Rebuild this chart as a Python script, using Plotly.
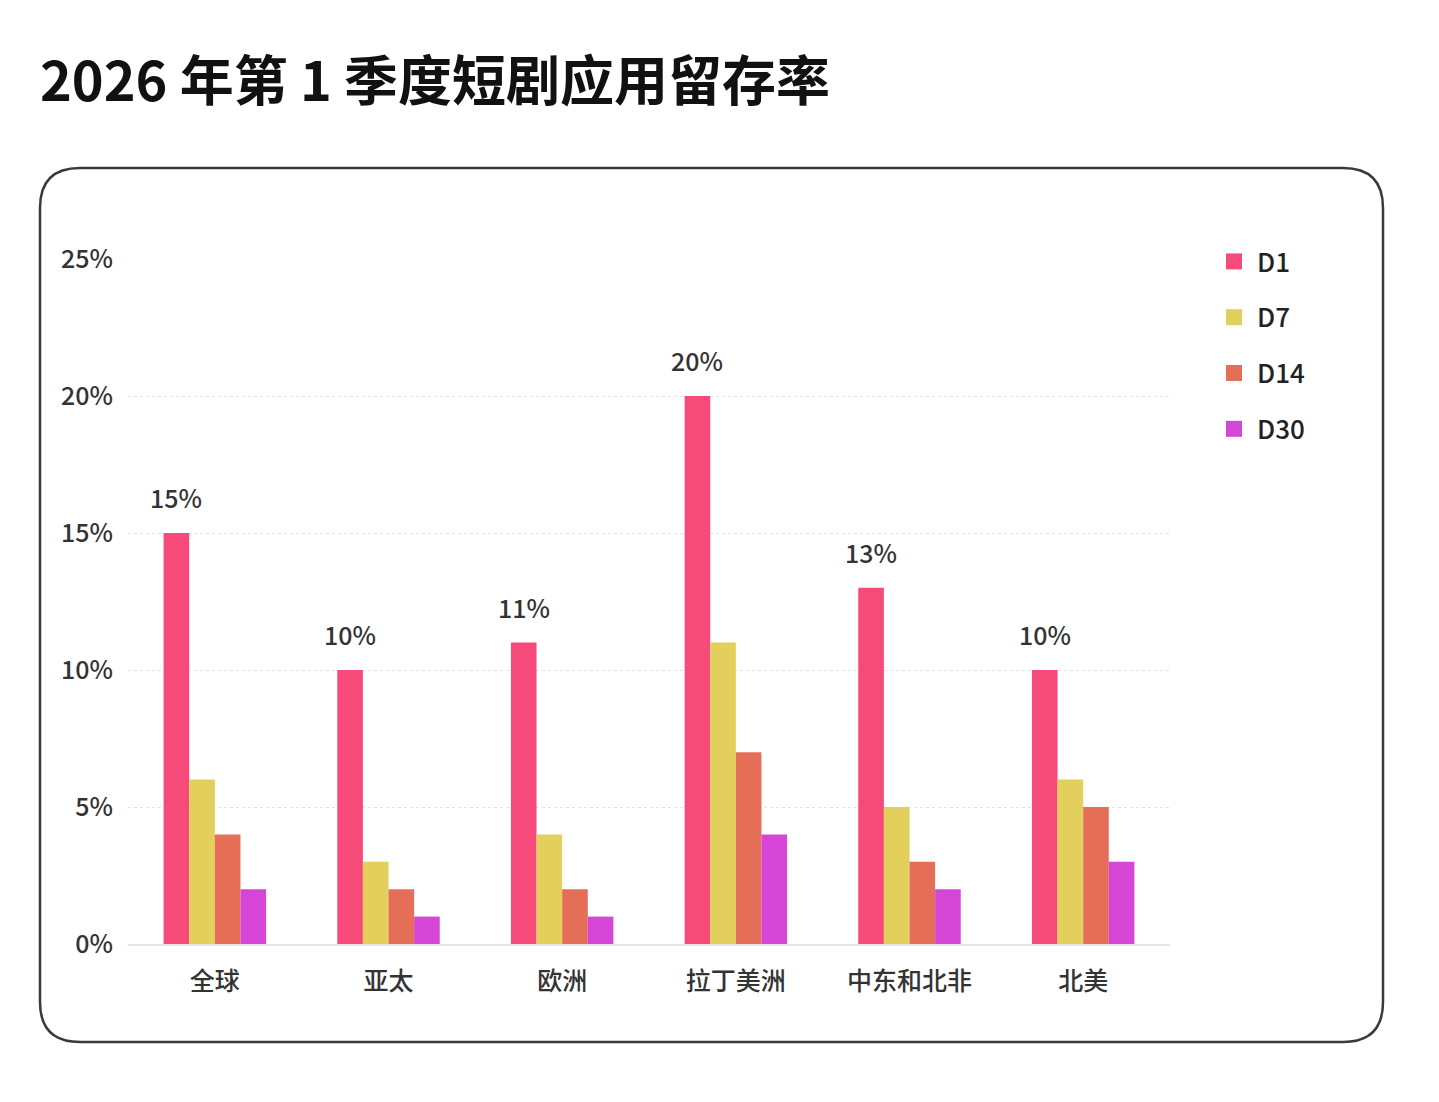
import plotly.graph_objects as go

categories = ["全球", "亚太", "欧洲", "拉丁美洲", "中东和北非", "北美"]
series_names = ["D1", "D7", "D14", "D30"]
d1 = [15, 10, 11, 20, 13, 10]
d7 = [6, 3, 4, 11, 5, 6]
d14 = [4, 2, 2, 7, 3, 5]
d30 = [2, 1, 1, 4, 2, 3]
colors = ["#F64A7B", "#E3CF5B", "#E56E58", "#D646D6"]
y_ticks = [0, 5, 10, 15, 20, 25]
y_ticklabels = ["0%", "5%", "10%", "15%", "20%", "25%"]
title_text = "2026 年第 1 季度短剧应用留存率"

W, H = 1439, 1102
OFF = 8  # page body offset
L, R, T, B = 128 - OFF, 1170 - OFF, 259 - OFF, 944 - OFF
PW, PH = R - L, B - T
BARGAP = 0.41

def px(x):
    return (x - OFF - L) / PW

def py(y):
    return (B - (y - OFF)) / PH

FONT = "Noto Sans CJK SC"

fig = go.Figure()
values = [d1, d7, d14, d30]
for i, (name, vals) in enumerate(zip(series_names, values)):
    fig.add_trace(go.Bar(
        x=categories, y=vals, name=name,
        marker=dict(color=colors[i], line=dict(width=0)),
        legendgroup=name, showlegend=False,
        hoverinfo="x+y+name",
    ))
# legend entries with square swatches
for i, name in enumerate(series_names):
    fig.add_trace(go.Scatter(
        x=[None], y=[None], mode="markers", name=name, legendgroup=name,
        marker=dict(symbol="square", size=22, color=colors[i]),
        showlegend=True, hoverinfo="skip",
    ))

# value labels above the D1 bars
bar_w = PW / len(categories) * (1 - BARGAP) / len(series_names)
for c, v in zip(categories, d1):
    fig.add_annotation(x=c, y=v, text=f"{v}%", showarrow=False,
                       xanchor="center", yanchor="bottom",
                       xshift=-1.5 * bar_w, yshift=16,
                       font=dict(family=FONT, size=25, color="#333333", weight=500))

# rounded frame
x0, x1, y0, y1, r = px(40), px(1383), py(168), py(1042), 40
rx, ry = r / PW, r / PH
path = (f"M{x0+rx},{y0} L{x1-rx},{y0} Q{x1},{y0} {x1},{y0-ry} "
        f"L{x1},{y1+ry} Q{x1},{y1} {x1-rx},{y1} "
        f"L{x0+rx},{y1} Q{x0},{y1} {x0},{y1+ry} "
        f"L{x0},{y0-ry} Q{x0},{y0} {x0+rx},{y0} Z")
fig.add_shape(type="path", path=path, xref="paper", yref="paper",
              line=dict(color="#3a3a3a", width=2.5), layer="below")

fig.add_annotation(text=title_text, xref="paper", yref="paper",
                   x=px(38), y=py(77), xanchor="left", yanchor="middle",
                   showarrow=False,
                   font=dict(family=FONT, size=54, color="#111111", weight=700))

fig.update_layout(
    width=W, height=H,
    margin=dict(l=L, r=W - R, t=T, b=H - B, pad=0),
    paper_bgcolor="white", plot_bgcolor="white",
    barmode="group", bargap=BARGAP, bargroupgap=0,
    font=dict(family=FONT, size=24, color="#333333"),
    showlegend=True,
    legend=dict(x=px(1211), y=py(238), xanchor="left", yanchor="top",
                traceorder="grouped", tracegroupgap=19, itemsizing="trace",
                font=dict(family=FONT, size=26, color="#222222", weight=500),
                bgcolor="rgba(0,0,0,0)", itemwidth=36),
    xaxis=dict(showgrid=False, showline=True, linecolor="#e4e4ea", linewidth=2,
               ticks="", tickfont=dict(family=FONT, size=25, color="#333333", weight=500),
               ticklabelstandoff=14),
    yaxis=dict(range=[0, 25], tickvals=y_ticks, ticktext=y_ticklabels,
               showgrid=True, gridcolor="#e4e4e4", gridwidth=1, griddash="dot",
               zeroline=False, showline=False, ticks="",
               tickfont=dict(family=FONT, size=25, color="#333333", weight=500),
               ticklabelstandoff=14),
)

fig.write_html("out.html")
